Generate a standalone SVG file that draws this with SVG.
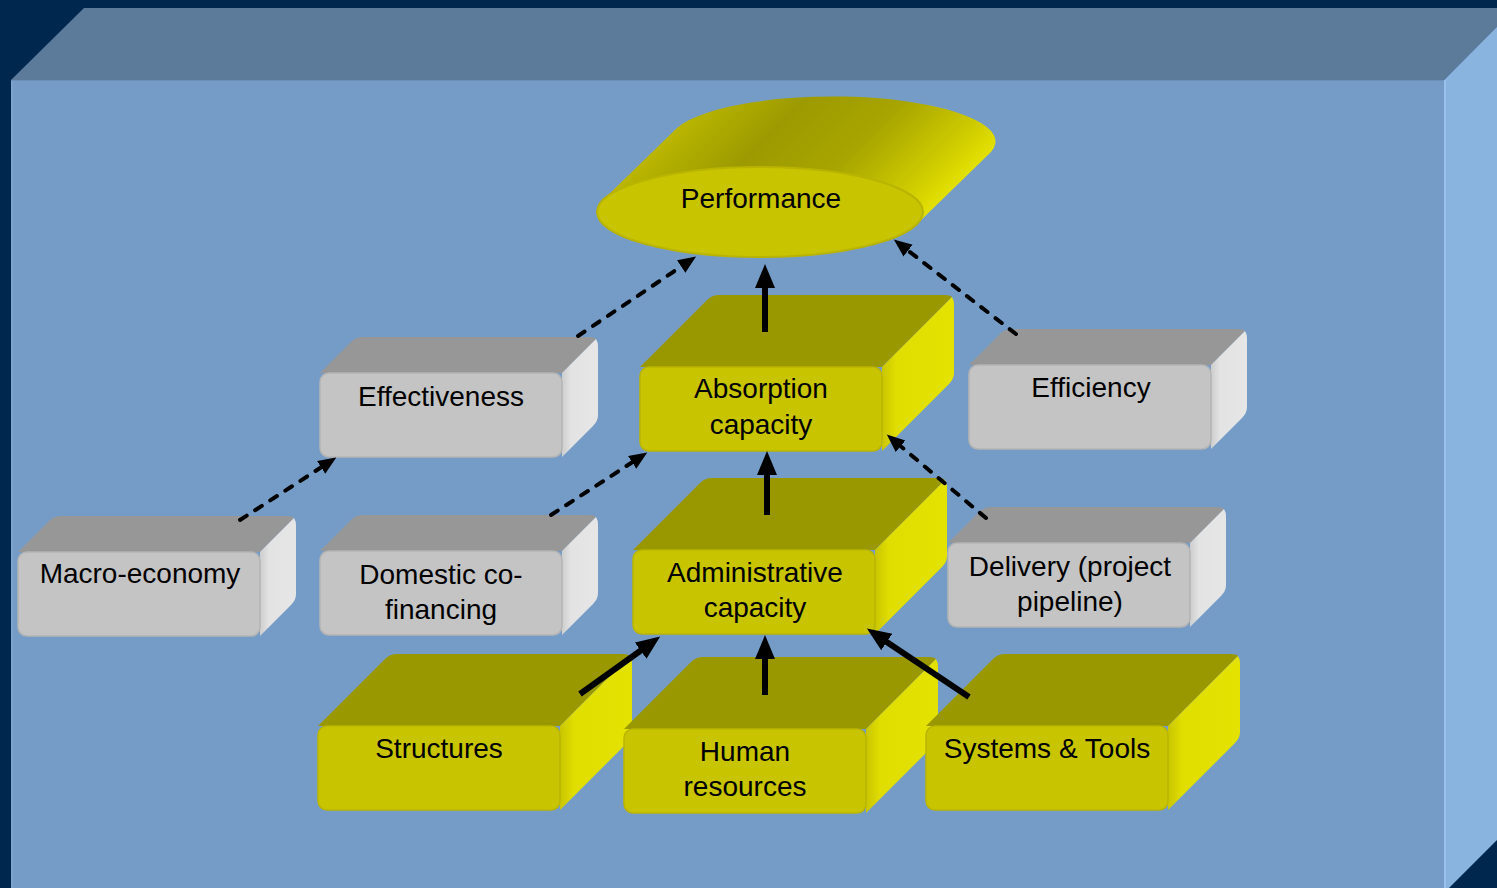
<svg xmlns="http://www.w3.org/2000/svg" xmlns:xlink="http://www.w3.org/1999/xlink" width="1497" height="888" viewBox="0 0 1497 888">
<style>
.lbl{font-family:"Liberation Sans",Arial,sans-serif;font-size:28px;fill:#000;text-anchor:middle}
.solid{stroke:#000;stroke-width:6;fill:none}
.dash{stroke:#000;stroke-width:4;fill:none;stroke-dasharray:8 10;stroke-linecap:round}
</style>
<defs>
<linearGradient id="gR" x1="0" y1="0" x2="1" y2="0">
<stop offset="0" stop-color="#CDCDCD"/><stop offset="0.25" stop-color="#E3E3E3"/><stop offset="1" stop-color="#E6E6E6"/>
</linearGradient>
<linearGradient id="yR" x1="0" y1="0" x2="1" y2="0">
<stop offset="0" stop-color="#C9C500"/><stop offset="0.2" stop-color="#E0DE00"/><stop offset="1" stop-color="#E3E200"/>
</linearGradient>
<linearGradient id="perfG" gradientUnits="userSpaceOnUse" x1="603" y1="200" x2="772" y2="369">
<stop offset="0" stop-color="#BAB600"/><stop offset="0.3" stop-color="#9C9A00"/><stop offset="0.6" stop-color="#A8A500"/><stop offset="0.88" stop-color="#CFCC00"/><stop offset="1" stop-color="#E2E000"/>
</linearGradient>
<g id="greyBox">
<path d="M0,0 L31,-31 Q36,-36 43,-36 L268,-36 Q275,-36 276,-34 L242,0 Z" fill="#979797"/>
<path d="M242,0 L276,-34 Q278,-31 278,-26 L278,42 Q278,48 273,53 L242,84 Z" fill="url(#gR)"/>
<rect x="0" y="0" width="242" height="84" rx="9" fill="#C4C4C4" stroke="#B4B4B4" stroke-width="1.5"/>
</g>
<g id="yellowBox">
<path d="M0,0 L67,-67 Q72,-72 79,-72 L304,-72 Q311,-72 312,-70 L242,0 Z" fill="#9A9800"/>
<path d="M242,0 L312,-70 Q314,-67 314,-62 L314,6 Q314,12 309,17 L242,84 Z" fill="url(#yR)"/>
<rect x="0" y="0" width="242" height="84" rx="9" fill="#C8C400" stroke="#B9B500" stroke-width="1.5"/>
</g>
<marker id="hs" markerUnits="userSpaceOnUse" markerWidth="26" markerHeight="22" refX="1" refY="10" orient="auto">
<path d="M0,0 L24,10 L0,20 Z" fill="#000"/>
</marker>
<marker id="hd" markerUnits="userSpaceOnUse" markerWidth="20" markerHeight="16" refX="1" refY="7.5" orient="auto">
<path d="M0,0 L18,7.5 L0,15 Z" fill="#000"/>
</marker>
</defs>

<g id="background">
<rect x="0" y="0" width="1497" height="888" fill="#00284F"/>
<polygon points="11,80 84,8 1517,8 1444,80" fill="#5C7A9A"/>
<polygon points="1444,80 1517,7 1517,820 1444,893" fill="#8AB4E0"/>
<rect x="11" y="80" width="1433" height="820" fill="#759CC6"/>
<line x1="12" y1="80" x2="12" y2="888" stroke="#80A7D0" stroke-width="1.5"/>
<line x1="11" y1="80.5" x2="1444" y2="80.5" stroke="#6D90B6" stroke-width="1"/>
<line x1="1445" y1="80" x2="1445" y2="888" stroke="#98C0EA" stroke-width="2"/>
</g>

<g id="node-performance">
<path d="M603,200 L677,128 A163,45 0 0 1 991,152 L917,224 A163,45 0 0 1 603,200 Z" fill="url(#perfG)"/>
<ellipse cx="760" cy="212" rx="163" ry="45" fill="#C8C400" stroke="#B8B400" stroke-width="2"/>
<text class="lbl" x="761" y="208">Performance</text>
</g>

<g id="node-effectiveness">
<use xlink:href="#greyBox" href="#greyBox" x="320" y="373"/>
<text class="lbl" x="441" y="406">Effectiveness</text>
</g>

<g id="node-efficiency">
<use xlink:href="#greyBox" href="#greyBox" x="969" y="365"/>
<text class="lbl" x="1091" y="397">Efficiency</text>
</g>

<g id="node-absorption">
<use xlink:href="#yellowBox" href="#yellowBox" x="640" y="367"/>
<text class="lbl" x="761" y="398">Absorption</text>
<text class="lbl" x="761" y="434">capacity</text>
</g>

<g id="node-macro">
<use xlink:href="#greyBox" href="#greyBox" x="18" y="552"/>
<text class="lbl" x="140" y="583">Macro-economy</text>
</g>

<g id="node-domestic">
<use xlink:href="#greyBox" href="#greyBox" x="320" y="551"/>
<text class="lbl" x="441" y="584">Domestic co-</text>
<text class="lbl" x="441" y="619">financing</text>
</g>

<g id="node-administrative">
<use xlink:href="#yellowBox" href="#yellowBox" x="633" y="550"/>
<text class="lbl" x="755" y="582">Administrative</text>
<text class="lbl" x="755" y="617">capacity</text>
</g>

<g id="node-delivery">
<use xlink:href="#greyBox" href="#greyBox" x="948" y="543"/>
<text class="lbl" x="1070" y="576">Delivery (project</text>
<text class="lbl" x="1070" y="611">pipeline)</text>
</g>

<g id="node-structures">
<use xlink:href="#yellowBox" href="#yellowBox" x="318" y="726"/>
<text class="lbl" x="439" y="758">Structures</text>
</g>

<g id="node-human">
<use xlink:href="#yellowBox" href="#yellowBox" x="624" y="729"/>
<text class="lbl" x="745" y="761">Human</text>
<text class="lbl" x="745" y="796">resources</text>
</g>

<g id="node-systems">
<use xlink:href="#yellowBox" href="#yellowBox" x="926" y="726"/>
<text class="lbl" x="1047" y="758">Systems &amp; Tools</text>
</g>

<g id="connectors">
<line class="solid" x1="765" y1="332" x2="765" y2="287" marker-end="url(#hs)"/>
<line class="solid" x1="767" y1="515" x2="767" y2="474" marker-end="url(#hs)"/>
<line class="solid" x1="765" y1="695" x2="765" y2="658" marker-end="url(#hs)"/>
<line class="solid" x1="580" y1="694" x2="641.5" y2="650" marker-end="url(#hs)"/>
<line class="solid" x1="969" y1="697" x2="886" y2="641.4" marker-end="url(#hs)"/>
<line class="dash" x1="578" y1="336" x2="682" y2="266" marker-end="url(#hd)"/>
<line class="dash" x1="240" y1="520" x2="322" y2="466.8" marker-end="url(#hd)"/>
<line class="dash" x1="551" y1="515" x2="633" y2="461.8" marker-end="url(#hd)"/>
<line class="dash" x1="1016" y1="334" x2="907.3" y2="250" marker-end="url(#hd)"/>
<line class="dash" x1="986" y1="518" x2="899.8" y2="445.5" marker-end="url(#hd)"/>
</g>
</svg>
